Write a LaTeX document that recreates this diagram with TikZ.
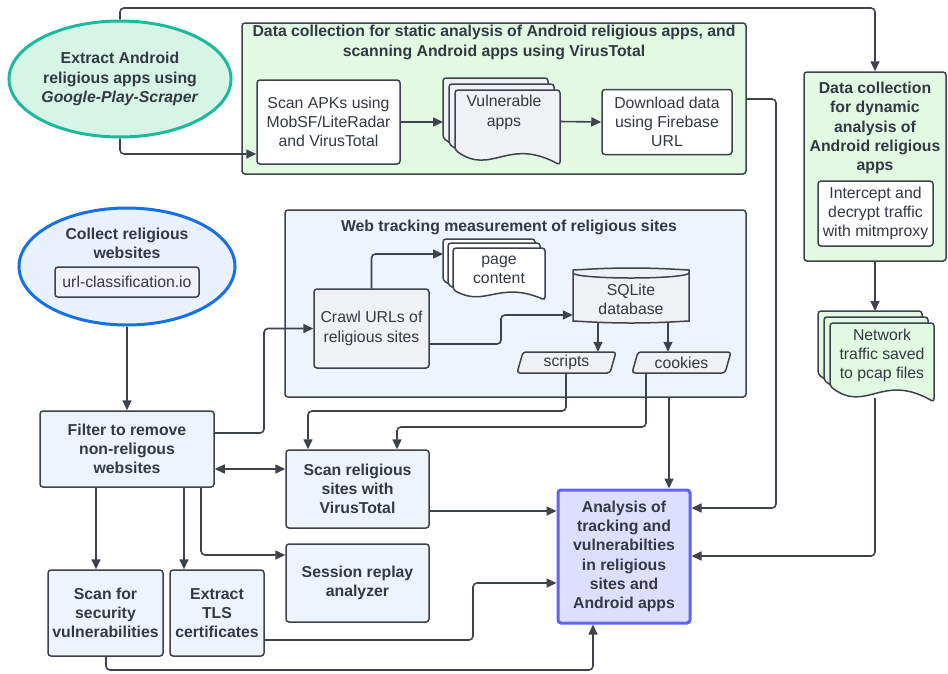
\documentclass[tikz,border=0pt]{standalone}
\usepackage{fontspec}
\setmainfont{Liberation Sans}
\usetikzlibrary{arrows.meta,shapes.geometric,calc}
\definecolor{lc}{RGB}{61,66,76}
\definecolor{tc}{RGB}{51,56,66}
\definecolor{gfill}{RGB}{226,250,226}
\definecolor{tealc}{RGB}{28,186,154}
\definecolor{tealfill}{RGB}{214,245,231}
\definecolor{bluec}{RGB}{24,113,228}
\definecolor{bluefill}{RGB}{232,241,253}
\definecolor{lbfill}{RGB}{236,244,254}
\definecolor{grayfill}{RGB}{240,241,244}
\definecolor{anafill}{RGB}{222,223,255}
\definecolor{anac}{RGB}{98,98,245}
\definecolor{urlfill}{RGB}{241,241,251}
\newcommand\myft{\fontsize{15.8pt}{19.2pt}\selectfont}
\newcommand\mybft{\fontsize{15.8pt}{19.2pt}\selectfont\bfseries}
\newcommand\docpage[5]{%
  \pgfmathsetmacro\dw{#4-#2}\pgfmathsetmacro\dh{#5-#3}%
  \filldraw[draw=lc, line width=1.5pt, fill=#1, rounded corners=3pt]
    (#2,#5-0.2*\dh) -- (#2,#3) -- (#4,#3) -- (#4,#5)
    .. controls (#2+0.5*\dw,#5-0.38*\dh) and (#2+0.35*\dw,#5+0.15*\dh) .. (#2,#5-0.2*\dh) -- cycle;}
\tikzset{
  box/.style={draw=lc, line width=1.5pt, rounded corners=3pt, inner sep=0pt, align=center, text=tc, font=\myft},
  bbox/.style={box, font=\mybft},
  plaintext/.style={inner sep=0pt, align=center, text=tc, font=\myft},
  titletext/.style={inner sep=0pt, align=center, text=tc, font=\mybft},
  conn/.style={draw=lc, line width=1.6pt, rounded corners=4pt, -{Triangle[length=10pt,width=9pt]}},
  shapeline/.style={draw=lc, line width=1.5pt, rounded corners=3pt},
}
\begin{document}
\begin{tikzpicture}[x=1pt,y=-1pt]
\useasboundingbox (0,0) rectangle (948,673);
\fill[white] (0,0) rectangle (948,673);

% containers
\node[box, fill=gfill, minimum width=504pt, minimum height=151pt] (stat) at (494,98.5) {};
\node[box, fill=lbfill, minimum width=461pt, minimum height=187pt] (web) at (515.5,303.5) {};
\node[box, fill=gfill, minimum width=142pt, minimum height=189pt] (dyn) at (875,166.5) {};

\node[titletext] (stattitle) at (494,42.5) {Data collection for static analysis of Android religious apps, and\\scanning Android apps using VirusTotal};
\node[titletext] (webtitle) at (509,227) {Web tracking measurement of religious sites};
\node[titletext] (dyntitle) at (875,128) {Data collection\\for dynamic\\analysis of\\Android religious\\apps};

% ellipses
\node[ellipse, draw=tealc, line width=3pt, fill=tealfill, minimum width=216pt, minimum height=116pt, inner sep=0pt, align=center, text=tc, font=\mybft] (ex) at (120,79) {Extract Android\\religious apps using\\\textit{Google-Play-Scraper}};
\node[ellipse, draw=bluec, line width=3pt, fill=bluefill, minimum width=216pt, minimum height=117pt, inner sep=0pt] (col) at (127,266.5) {};
\node[titletext] (coltitle) at (127,243) {Collect religious\\websites};
\node[box, fill=urlfill, minimum width=144pt, minimum height=30pt] (url) at (127,282) {url-classification.io};

% static boxes
\node[box, fill=white, minimum width=143pt, minimum height=84pt] (scan) at (328.5,122) {Scan APKs using\\MobSF/LiteRadar\\and VirusTotal};
\docpage{grayfill}{443}{78}{548}{153}
\docpage{grayfill}{449}{84}{554}{159}
\docpage{grayfill}{455}{90}{560}{165}
\node[plaintext] (vuln) at (504,112.5) {Vulnerable\\apps};
\coordinate (vulnL) at (443,122);
\coordinate (vulnR) at (560,121.5);
\node[box, fill=white, minimum width=130pt, minimum height=65pt] (dl) at (667,122) {Download data\\using Firebase\\URL};

% dynamic
\node[box, fill=white, minimum width=115pt, minimum height=65pt] (icp) at (875.5,213.5) {Intercept and\\decrypt traffic\\with mitmproxy};
\docpage{gfill}{818}{311}{922}{390}
\docpage{gfill}{824}{317}{928}{396}
\docpage{gfill}{830}{323}{934}{402}
\node[plaintext] (net) at (882,355.5) {Network\\traffic saved\\to pcap files};
\coordinate (netT) at (875,311);
\coordinate (netB) at (875,398);

% web tracking
\node[box, fill=grayfill, minimum width=115pt, minimum height=79pt] (crawl) at (371.5,328.5) {Crawl URLs of\\religious sites};
\docpage{white}{443}{239}{535}{291}
\docpage{white}{448}{243}{540}{295}
\docpage{white}{453}{248}{545}{300}
\node[plaintext] (page) at (499,269.5) {page\\content};
\coordinate (pageL) at (443,254);

\filldraw[shapeline, fill=grayfill] (573,273) -- (573,318) arc[start angle=180, end angle=360, x radius=58pt, y radius=5pt] -- (689,273) arc[start angle=0, end angle=180, x radius=58pt, y radius=5pt] -- cycle;
\draw[draw=lc, line width=1.5pt] (573,273) arc[start angle=180, end angle=360, x radius=58pt, y radius=5pt];
\node[plaintext, minimum width=116pt, minimum height=55pt] (db) at (631,295.5) {};
\node[plaintext] (dbtext) at (631,299.5) {SQLite\\database};

\filldraw[shapeline, fill=grayfill] (517,373) -- (523,352) -- (616,352) -- (610,373) -- cycle;
\node[plaintext, minimum width=99pt, minimum height=21pt] (scripts) at (566.5,362.5) {scripts};
\filldraw[shapeline, fill=grayfill] (632,373) -- (638,352) -- (731,352) -- (725,373) -- cycle;
\node[plaintext, minimum width=99pt, minimum height=21pt] (cookies) at (681.5,362.5) {cookies};

% lower boxes
\node[bbox, fill=lbfill, minimum width=174pt, minimum height=76pt] (filter) at (127,449) {Filter to remove\\non-religous\\websites};
\node[bbox, fill=lbfill, minimum width=143pt, minimum height=78pt] (scanvt) at (357.5,489) {Scan religious\\sites with\\VirusTotal};
\node[bbox, fill=lbfill, minimum width=143pt, minimum height=78pt] (sess) at (357.5,583) {Session replay\\analyzer};
\node[bbox, fill=lbfill, minimum width=115pt, minimum height=86pt] (sec) at (105.5,613) {Scan for\\security\\vulnerabilities};
\node[bbox, fill=lbfill, minimum width=94pt, minimum height=86pt] (tls) at (217,613) {Extract\\TLS\\certificates};
\node[bbox, draw=anac, line width=3pt, fill=anafill, minimum width=132pt, minimum height=133pt] (ana) at (624,556.5) {Analysis of\\tracking and\\vulnerabilties\\in religious\\sites and\\Android apps};

% connectors
\draw[conn] (ex.north) -- (ex.north |- 0,8) -| (dyn.north);
\draw[conn] (ex.south) |- (scan.west |- 0,154);
\draw[conn] (scan.east) -- (vulnL);
\draw[conn] (vulnR) -- (dl.west);
\draw[conn] (stat.east |- 0,99) -| (776,508) -- (ana.east |- 0,508);
\draw[conn] (dyn.south) -- (netT);
\draw[conn] (netB) |- (ana.east |- 0,556);
\draw[conn] (col.south) -- (filter.north);
\draw[conn] (filter.east |- 0,433) -| (264,328.5) -- (crawl.west);
\draw[conn] (crawl.north) |- (pageL);
\draw[conn] (crawl.east |- 0,344) -| (501,315) -- (db.west |- 0,315);
\draw[conn] (db.south -| 598,0) -- (scripts.north -| 598,0);
\draw[conn] (db.south -| 668,0) -- (cookies.north -| 668,0);
\draw[conn] (scripts.south -| 566,0) |- (308,411) -- (scanvt.north -| 308,0);
\draw[conn] (cookies.south -| 646,0) |- (397,427) -- (scanvt.north -| 397,0);
\draw[conn] (web.south -| 669,0) -- (ana.north -| 669,0);
\draw[conn, {Triangle[length=10pt,width=9pt]}-{Triangle[length=10pt,width=9pt]}] (filter.east |- 0,469) -- (scanvt.west |- 0,469);
\draw[conn] (scanvt.east |- 0,511) -- (ana.west |- 0,511);
\draw[conn] (filter.south -| 96,0) -- (sec.north -| 96,0);
\draw[conn] (filter.south -| 184,0) -- (tls.north -| 184,0);
\draw[conn] (filter.south -| 201,0) |- (sess.west |- 0,555);
\draw[conn] (tls.east |- 0,640) -| (473,583) -- (ana.west |- 0,583);
\draw[conn] (sec.south -| 106,0) |- (593,670) -- (ana.south -| 593,0);
\end{tikzpicture}
\end{document}
